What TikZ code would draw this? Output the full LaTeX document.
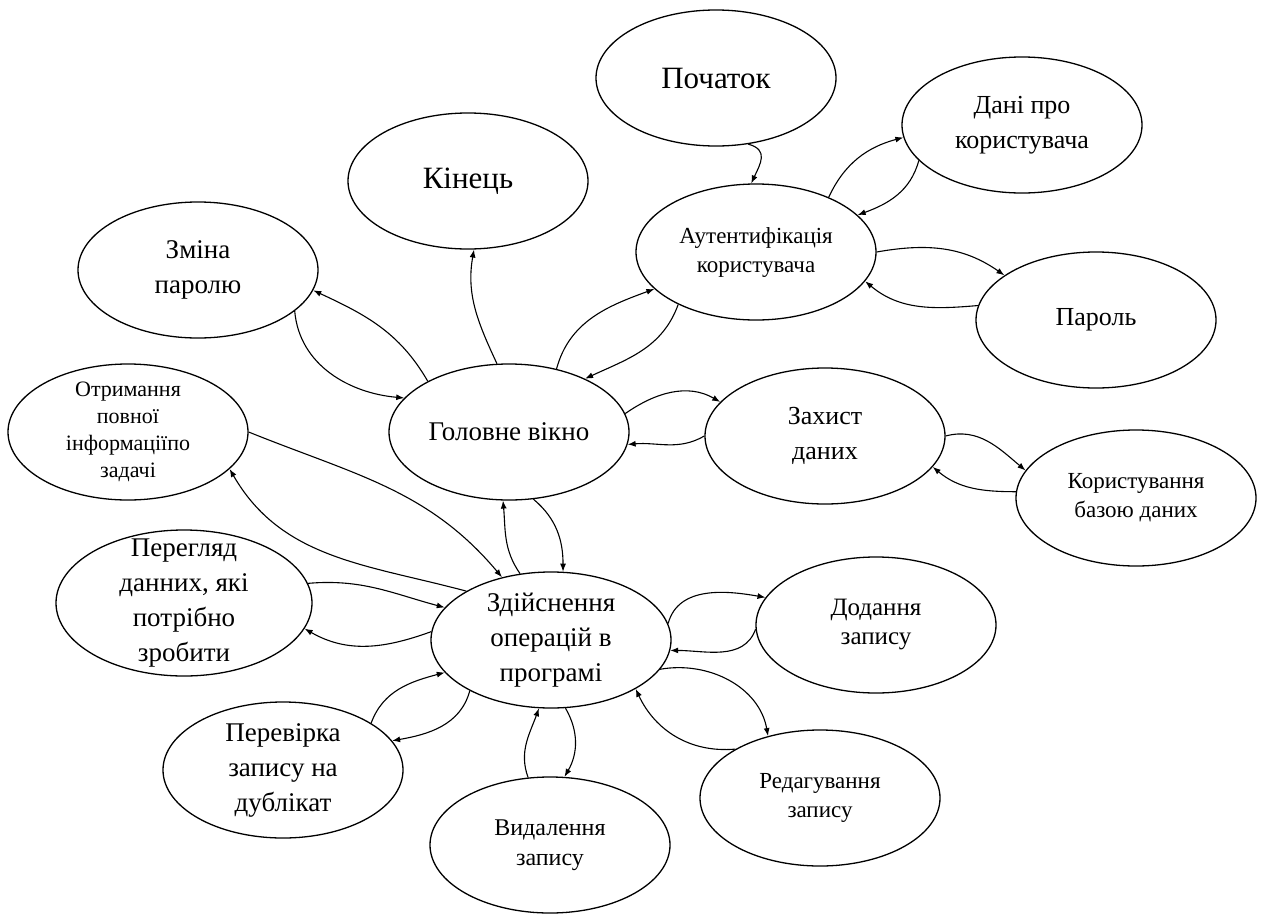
\documentclass[tikz,border=0pt]{standalone}
\usepackage{fontspec}
\setmainfont{Liberation Serif}
\usetikzlibrary{shapes.geometric,arrows.meta}
\begin{document}
\begin{tikzpicture}[>={Latex[length=8pt,width=6pt]},x=1pt,y=1pt,
  ell/.style={draw,ellipse,line width=1.3pt,minimum width=240pt,minimum height=136pt,inner sep=-15pt,align=center},
  t31/.style={font=\fontsize{31}{36}\selectfont},
  t27/.style={font=\fontsize{27}{35}\selectfont},
  t26/.style={font=\fontsize{26}{35}\selectfont},
  t25/.style={font=\fontsize{25}{29}\selectfont},
  t24/.style={font=\fontsize{24}{30}\selectfont},
  t23/.style={font=\fontsize{23}{29}\selectfont},
  t22/.style={font=\fontsize{22}{27}\selectfont}]
\useasboundingbox (0,0) rectangle (1267,-916);

\node[ell,t31] (poch) at (716,-78) {Початок};
\node[ell,t31] (kin) at (468,-181) {Кінець};
\node[ell,t26] (dani) at (1022,-125) {Дані про\\користувача};
\node[ell,t23] (auth) at (756,-252) {Аутентифікація\\користувача};
\node[ell,t27] (zmina) at (198,-270) {Зміна\\паролю};
\node[ell,t26] (parol) at (1096,-320) {Пароль};
\node[ell,t22] (otr) at (128,-432) {Отримання\\повної\\інформаціїпо\\задачі};
\node[ell,t27] (golov) at (509,-432) {Головне вікно};
\node[ell,t26] (zahyst) at (825,-436) {Захист\\даних};
\node[ell,t23] (korys) at (1136,-498) {Користування\\базою даних};
\node[ell,t27,minimum width=256pt,minimum height=146pt] (pereg) at (184,-603) {Перегляд\\данних, які\\потрібно\\зробити};
\node[ell,t27] (zdij) at (551,-640) {Здійснення\\операцій в\\програмі};
\node[ell,t25] (dod) at (876,-625) {Додання\\запису};
\node[ell,t27] (perev) at (283,-770) {Перевірка\\запису на\\дублікат};
\node[ell,t23] (redag) at (820,-798) {Редагування\\запису};
\node[ell,t24] (vydal) at (550,-845) {Видалення\\запису};

\begin{scope}[line width=1.1pt]
\draw[->] (poch.-64) to[out=-15,in=65,looseness=1.4] (auth.94);
\draw[->] (auth.37) to[out=65,in=195] (dani.186);
\draw[->] (dani.199) to[out=-105,in=20] (auth.20);
\draw[->] (auth.0) to[out=10,in=145] (parol.154);
\draw[->] (parol.173) to[out=185,in=-40] (auth.-15);
\draw[->] (golov.53) to[out=75,in=200] (auth.200);
\draw[->] (auth.214) to[out=-110,in=25] (golov.35);
\draw[->] (golov.100) to[out=115,in=-100] (kin.-85);
\draw[->] (golov.148) to[out=120,in=-25] (zmina.-10);
\draw[->] (zmina.-23) to[out=-85,in=175] (golov.162);
\draw[->] (golov.9) to[out=35,in=150] (zahyst.162);
\draw[->] (zahyst.180) to[out=210,in=5] (golov.-6);
\draw[->] (zahyst.0) to[out=15,in=140] (korys.166);
\draw[->] (korys.177) to[out=180,in=-40] (zahyst.-16);
\draw[->] (golov.-70) to[out=-40,in=90] (zdij.80);
\draw[->] (zdij.115) to[out=125,in=-85] (golov.-95);
\draw[->] (otr.0) to[out=-22,in=130] (zdij.128);
\draw[->] (zdij.150) to[out=165,in=-60] (otr.-20);
\draw[->] (pereg.9) to[out=5,in=165] (zdij.163);
\draw[->] (zdij.176) to[out=200,in=-30] (pereg.-12);
\draw[->] (perev.28) to[out=70,in=195] (zdij.197);
\draw[->] (zdij.212) to[out=-105,in=10] (perev.15);
\draw[->] (vydal.108) to[out=110,in=-110] (zdij.-100);
\draw[->] (zdij.-78) to[out=-60,in=60] (vydal.78);
\draw[->] (zdij.8) to[out=75,in=170] (dod.166);
\draw[->] (dod.182) to[out=-110,in=0] (zdij.-5);
\draw[->] (zdij.-15) to[out=10,in=100] (redag.130);
\draw[->] (redag.150) to[out=185,in=-65] (zdij.-30);
\end{scope}
\end{tikzpicture}
\end{document}
